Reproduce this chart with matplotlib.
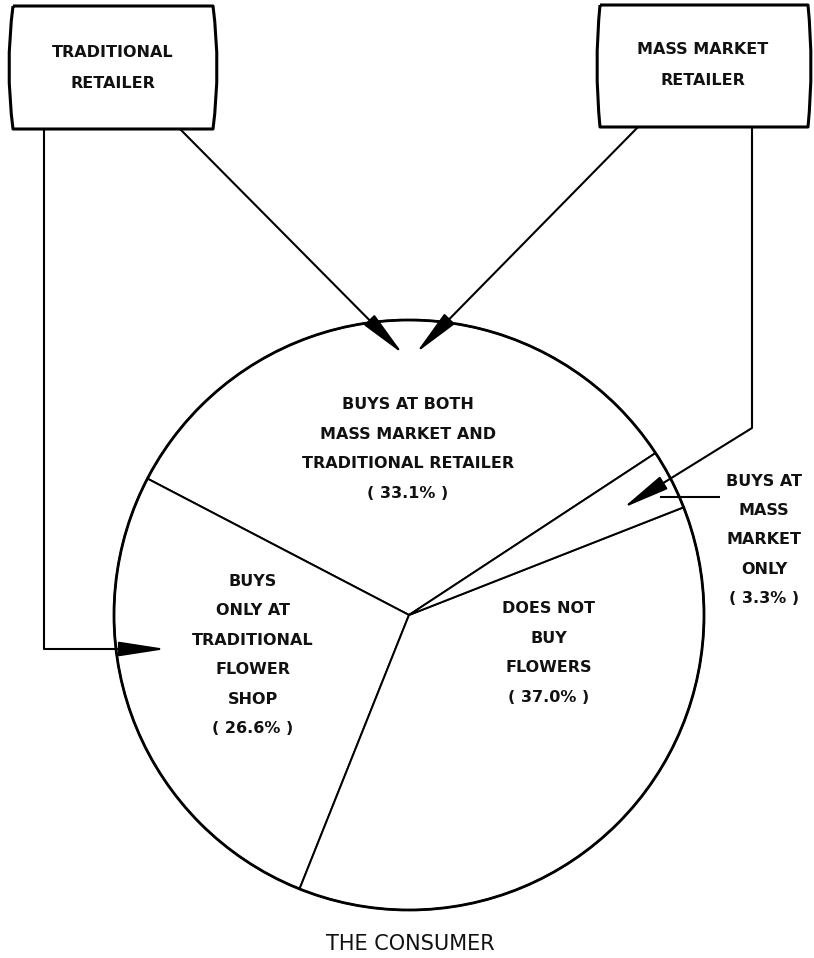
"""Consumer flower-buying pie with retailer flow boxes."""

import matplotlib
matplotlib.use("Agg")
import matplotlib.pyplot as plt
from matplotlib.patches import Circle, PathPatch
from matplotlib.path import Path

# data
segments = [
    "BUYS AT BOTH\nMASS MARKET AND\nTRADITIONAL RETAILER",
    "BUYS\nONLY AT\nTRADITIONAL\nFLOWER\nSHOP",
    "DOES NOT\nBUY\nFLOWERS",
    "BUYS AT\nMASS\nMARKET\nONLY",
]
shares = [33.1, 26.6, 37.0, 3.3]
sources = ["TRADITIONAL\nRETAILER", "MASS MARKET\nRETAILER"]
title = "THE CONSUMER"

# layout (image pixel coordinates, y down)
W, H = 814, 958
CX, CY, R = 409, 615, 295
label_pos = [(408, 449), (253, 655), (549, 653), (764, 540)]
source_pos = [(113, 68), (703, 65)]

plt.rcParams["font.family"] = ["DejaVu Sans"]

fig = plt.figure(figsize=(W / 100, H / 100), dpi=100)
ax = fig.add_axes([0, 0, 1, 1])

# y axis is flipped below, so clockwise in data = counter-clockwise on screen
ax.pie(shares, radius=R, center=(CX, CY), startangle=-33.3, counterclock=False,
       wedgeprops=dict(facecolor="white", edgecolor="black", linewidth=1.4))
ax.add_patch(Circle((CX, CY), R, fill=False, ec="black", lw=2.0))

ax.set_xlim(0, W)
ax.set_ylim(H, 0)
ax.set_aspect("equal")
ax.axis("off")

txt = dict(ha="center", va="center", fontsize=11.5, fontweight="bold",
           linespacing=2.2, color="#111111")
for name, share, (x, y) in zip(segments, shares, label_pos):
    ax.text(x, y, f"{name}\n( {share:.1f}% )", **txt)


def bulged_box(x0, x1, y0, y1, left_mid, right_mid):
    # box with slightly bowed sides, like the hand-drawn original
    cl = 2 * left_mid - x0
    cr = 2 * right_mid - x1
    verts = [(x0, y0), (x1, y0), (cr, (y0 + y1) / 2), (x1, y1),
             (x0, y1), (cl, (y0 + y1) / 2), (x0, y0)]
    codes = [Path.MOVETO, Path.LINETO, Path.CURVE3, Path.CURVE3,
             Path.LINETO, Path.CURVE3, Path.CURVE3]
    ax.add_patch(PathPatch(Path(verts, codes), fc="white", ec="black", lw=2.2,
                           joinstyle="round"))


bulged_box(13, 213, 6, 129, 9, 217)
bulged_box(600, 808, 5, 127, 597, 811)
for name, (x, y) in zip(sources, source_pos):
    ax.text(x, y, name, **{**txt, "linespacing": 2.4})

line = dict(color="black", lw=1.5, solid_capstyle="butt")
arrow = dict(arrowstyle="-|>,head_length=2.9,head_width=0.45", mutation_scale=10,
             lw=1.5, color="black", fc="black", shrinkA=0, shrinkB=0)

# traditional retailer -> both, and -> traditional only
ax.annotate("", xy=(403, 354), xytext=(180, 129), arrowprops=arrow)
ax.plot([44, 44], [129, 649], **line)
ax.annotate("", xy=(166, 649), xytext=(44, 649), arrowprops=arrow)

# mass market retailer -> both, and -> mass market only
ax.annotate("", xy=(416, 353), xytext=(638, 127), arrowprops=arrow)
ax.plot([752, 752], [127, 428], **line)
ax.annotate("", xy=(623, 508), xytext=(752, 428), arrowprops=arrow)
ax.plot([720, 660], [497, 497], **line)

ax.text(410, 944, title, ha="center", va="center", fontsize=15, color="#111111")

fig.savefig("out.png", dpi=100, facecolor="white")
